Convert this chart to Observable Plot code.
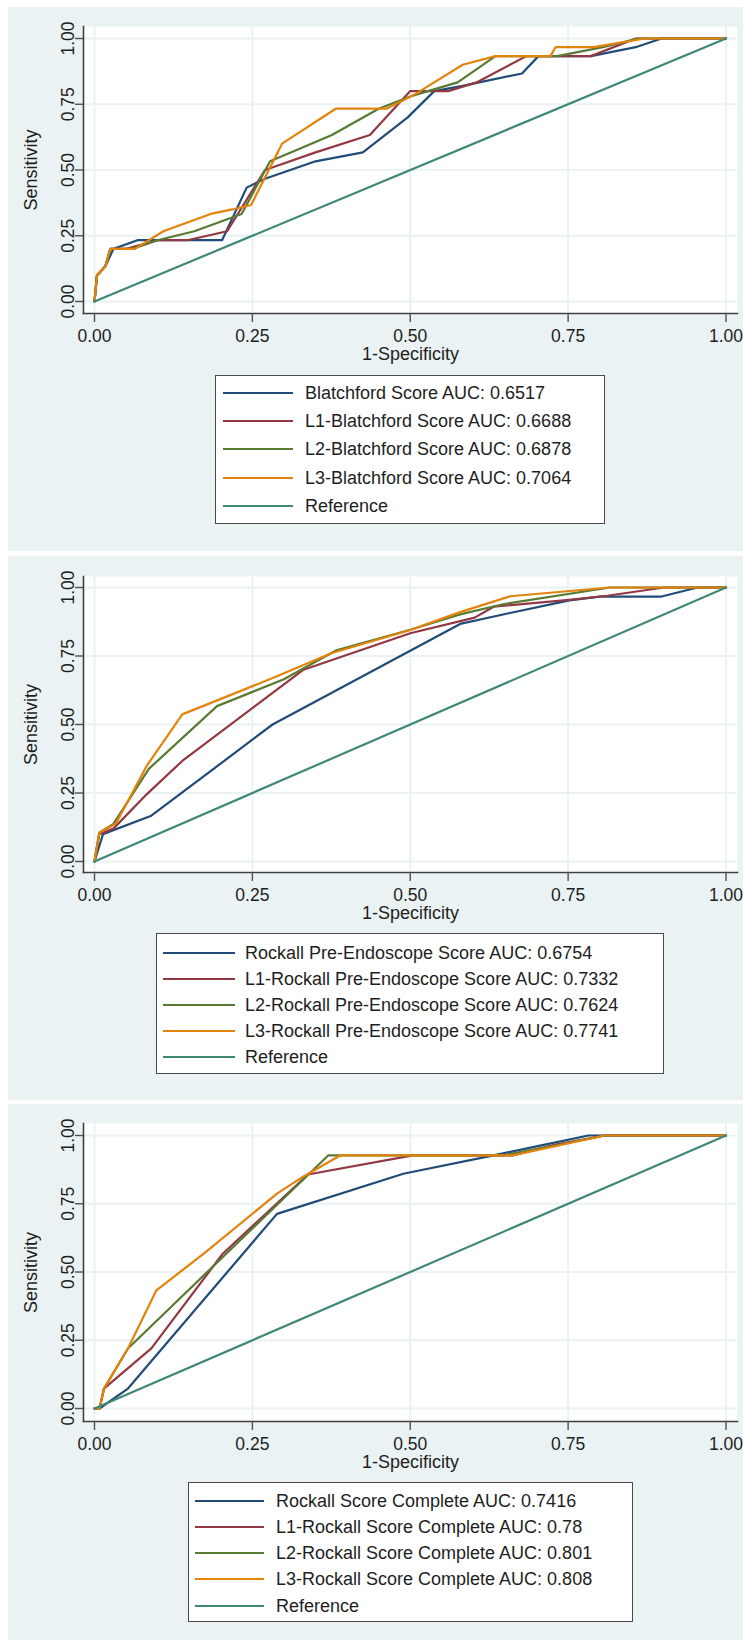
<!DOCTYPE html>
<html>
<head>
<meta charset="utf-8">
<script src="https://cdn.jsdelivr.net/npm/d3@7"></script>
<script src="https://cdn.jsdelivr.net/npm/@observablehq/plot@0.6"></script>
<style>
html, body { margin: 0; padding: 0; background: #ffffff; }
body { width: 743px; height: 1640px; position: relative; overflow: hidden; font-family: "Liberation Sans", Arial, sans-serif; color: #1e1e1e; }
.panel { position: absolute; left: 8px; width: 735px; background: #EAF2F3; }
.panel svg { position: absolute; left: 0; top: 0; }
.legend { position: absolute; background: #ffffff; border: 1.5px solid #4a4a4a; box-sizing: border-box; }
.legend .sw { position: absolute; height: 2px; }
.legend .tx { position: absolute; font-size: 18px; line-height: 22px; height: 22px; white-space: nowrap; color: #1e1e1e; }
</style>
</head>
<body>
<script>
// ---- shared axis data ----
const tickValues = [0, 0.25, 0.5, 0.75, 1];
const tickLabels = ["0.00", "0.25", "0.50", "0.75", "1.00"];
const xTitle = "1-Specificity";
const yTitle = "Sensitivity";
const seriesColors = ["#1f4c78", "#923842", "#587a32", "#e4830c", "#3f8878"];

// reference diagonal
const reference = [[0, 0], [1, 1]];

// ---- Panel 1: Blatchford ----
const p1Labels = [
  "Blatchford Score AUC: 0.6517",
  "L1-Blatchford Score AUC: 0.6688",
  "L2-Blatchford Score AUC: 0.6878",
  "L3-Blatchford Score AUC: 0.7064",
  "Reference"
];
const p1Base = [[0,0],[0.004,0.10],[0.017,0.133],[0.03,0.20],[0.068,0.233],[0.202,0.233],[0.241,0.433],[0.27,0.467],[0.35,0.533],[0.425,0.567],[0.496,0.70],[0.538,0.80],[0.583,0.82],[0.677,0.867],[0.703,0.933],[0.786,0.933],[0.857,0.967],[0.898,1],[1,1]];
const p1L1 = [[0,0],[0.004,0.10],[0.017,0.133],[0.025,0.20],[0.05,0.20],[0.10,0.233],[0.147,0.233],[0.21,0.267],[0.27,0.50],[0.35,0.567],[0.436,0.633],[0.50,0.80],[0.56,0.80],[0.605,0.833],[0.684,0.933],[0.786,0.933],[0.857,1],[1,1]];
const p1L2 = [[0,0],[0.004,0.10],[0.017,0.133],[0.025,0.20],[0.06,0.20],[0.10,0.233],[0.158,0.267],[0.233,0.333],[0.278,0.533],[0.376,0.633],[0.45,0.733],[0.504,0.783],[0.575,0.833],[0.635,0.933],[0.733,0.933],[0.805,0.967],[0.861,1],[1,1]];
const p1L3 = [[0,0],[0.004,0.10],[0.017,0.133],[0.025,0.20],[0.064,0.20],[0.109,0.267],[0.184,0.333],[0.218,0.35],[0.248,0.367],[0.297,0.60],[0.382,0.733],[0.462,0.733],[0.504,0.783],[0.583,0.90],[0.635,0.933],[0.722,0.933],[0.73,0.967],[0.79,0.967],[0.872,1],[1,1]];

// ---- Panel 2: Rockall Pre-Endoscope ----
const p2Labels = [
  "Rockall Pre-Endoscope Score AUC: 0.6754",
  "L1-Rockall Pre-Endoscope Score AUC: 0.7332",
  "L2-Rockall Pre-Endoscope Score AUC: 0.7624",
  "L3-Rockall Pre-Endoscope Score AUC: 0.7741",
  "Reference"
];
const p2Base = [[0,0],[0.0135,0.10],[0.09,0.167],[0.282,0.50],[0.579,0.867],[0.658,0.907],[0.752,0.953],[0.80,0.967],[0.898,0.967],[0.955,1],[1,1]];
const p2L1 = [[0,0],[0.0075,0.10],[0.03,0.12],[0.083,0.246],[0.139,0.367],[0.331,0.70],[0.5,0.833],[0.602,0.89],[0.632,0.93],[0.752,0.955],[0.812,0.97],[0.902,1],[1,1]];
const p2L2 = [[0,0],[0.0075,0.105],[0.03,0.137],[0.086,0.338],[0.194,0.567],[0.30,0.665],[0.383,0.771],[0.5,0.846],[0.579,0.902],[0.647,0.939],[0.816,1],[1,1]];
const p2L3 = [[0,0],[0.0075,0.105],[0.034,0.139],[0.083,0.35],[0.139,0.537],[0.286,0.673],[0.376,0.761],[0.5,0.845],[0.579,0.91],[0.658,0.968],[0.816,1],[1,1]];

// ---- Panel 3: Rockall Complete ----
const p3Labels = [
  "Rockall Score Complete AUC: 0.7416",
  "L1-Rockall Score Complete AUC: 0.78",
  "L2-Rockall Score Complete AUC: 0.801",
  "L3-Rockall Score Complete AUC: 0.808",
  "Reference"
];
const p3Base = [[0,0],[0.008,0],[0.053,0.073],[0.289,0.713],[0.489,0.86],[0.632,0.927],[0.70,0.96],[0.782,1],[1,1]];
const p3L1 = [[0,0],[0.008,0],[0.015,0.073],[0.09,0.22],[0.203,0.567],[0.338,0.857],[0.504,0.927],[0.662,0.927],[0.73,0.967],[0.808,1],[1,1]];
const p3L2 = [[0,0],[0.008,0],[0.015,0.073],[0.053,0.22],[0.37,0.927],[0.647,0.927],[0.737,0.967],[0.808,1],[1,1]];
const p3L3 = [[0,0],[0.008,0],[0.015,0.073],[0.053,0.22],[0.098,0.433],[0.173,0.567],[0.289,0.787],[0.331,0.85],[0.389,0.927],[0.662,0.927],[0.808,1],[1,1]];

// ---- layout (pixels) ----
const H = 372;
const panels = [
  { top: 7, height: 544, labels: p1Labels, series: [p1Base, p1L1, p1L2, p1L3, reference],
    frame: { top: 19, bottom: 306, insetTop: 12, insetBottom: 12 },
    legend: { left: 215, top: 375, width: 390, height: 149, rowStart: 18, rowGap: 28.4, s0: 7, s1: 77, tx: 89 } },
  { top: 556, height: 544, labels: p2Labels, series: [p2Base, p2L1, p2L2, p2L3, reference],
    frame: { top: 20, bottom: 316, insetTop: 11, insetBottom: 11 },
    legend: { left: 156, top: 933, width: 508, height: 141, rowStart: 20, rowGap: 26, s0: 6, s1: 78, tx: 88 } },
  { top: 1104, height: 536, labels: p3Labels, series: [p3Base, p3L1, p3L2, p3L3, reference],
    frame: { top: 19, bottom: 317, insetTop: 12, insetBottom: 13 },
    legend: { left: 188, top: 1482, width: 445, height: 140, rowStart: 19, rowGap: 26.25, s0: 6, s1: 75, tx: 87 } }
];

const fmt = d => tickLabels[tickValues.indexOf(d)];
const fontFamily = '"Liberation Sans", Arial, sans-serif';

panels.forEach(cfg => {
  const div = document.createElement("div");
  div.className = "panel";
  div.style.top = cfg.top + "px";
  div.style.height = cfg.height + "px";
  document.body.appendChild(div);

  const rows = cfg.series.flatMap((pts, i) => pts.map(([fpr, tpr]) => ({ series: cfg.labels[i], fpr, tpr })));
  const f = cfg.frame;

  const chart = Plot.plot({
    width: 735,
    height: H,
    marginLeft: 75,
    marginRight: 6,
    marginTop: f.top,
    marginBottom: H - f.bottom,
    insetLeft: 11,
    insetRight: 11.5,
    insetTop: f.insetTop,
    insetBottom: f.insetBottom,
    style: { background: "transparent", fontFamily, overflow: "visible", maxWidth: "none" },
    x: { domain: [0, 1] },
    y: { domain: [0, 1] },
    color: { domain: cfg.labels, range: seriesColors },
    marks: [
      Plot.frame({ fill: "white", stroke: "none" }),
      Plot.gridX(tickValues, { stroke: "#EAF2F3", strokeOpacity: 1, strokeWidth: 2 }),
      Plot.gridY(tickValues, { stroke: "#EAF2F3", strokeOpacity: 1, strokeWidth: 2 }),
      Plot.line(rows, { x: "fpr", y: "tpr", z: "series", stroke: "series", strokeWidth: 2.2, strokeLinejoin: "round" }),
      Plot.frame({ anchor: "left", stroke: "#404040", strokeWidth: 1.6 }),
      Plot.frame({ anchor: "bottom", stroke: "#404040", strokeWidth: 1.6 }),
      Plot.axisX(tickValues, { tickFormat: fmt, tickSize: 9, tickPadding: 7, fontSize: 17.5, stroke: "#505050", fill: "#1e1e1e", strokeWidth: 1.4, label: null }),
      Plot.axisY(tickValues, { tickFormat: fmt, tickRotate: -90, tickSize: 8, tickPadding: 1.5, fontSize: 17.5, stroke: "#505050", fill: "#1e1e1e", strokeWidth: 1.4, label: null }),
      Plot.text([xTitle], { text: d => d, frameAnchor: "bottom", textAnchor: "middle", lineAnchor: "middle", dy: 41, fontSize: 18, fill: "#1e1e1e" }),
      Plot.text([yTitle], { text: d => d, frameAnchor: "left", rotate: -90, textAnchor: "middle", lineAnchor: "middle", dx: -52, fontSize: 18, fill: "#1e1e1e" })
    ]
  });
  div.appendChild(chart);

  const L = cfg.legend;
  const lg = document.createElement("div");
  lg.className = "legend";
  lg.style.left = (L.left - 8) + "px";
  lg.style.top = (L.top - cfg.top) + "px";
  lg.style.width = L.width + "px";
  lg.style.height = L.height + "px";
  cfg.labels.forEach((lab, i) => {
    const y = Math.round(L.rowStart + i * L.rowGap - 1.5);
    const sw = document.createElement("div");
    sw.className = "sw";
    sw.style.left = L.s0 + "px";
    sw.style.width = (L.s1 - L.s0) + "px";
    sw.style.top = (y - 1) + "px";
    sw.style.background = seriesColors[i];
    const tx = document.createElement("div");
    tx.className = "tx";
    tx.style.left = L.tx + "px";
    tx.style.top = (y - 11) + "px";
    tx.textContent = lab;
    lg.appendChild(sw);
    lg.appendChild(tx);
  });
  div.appendChild(lg);
});
</script>
</body>
</html>
